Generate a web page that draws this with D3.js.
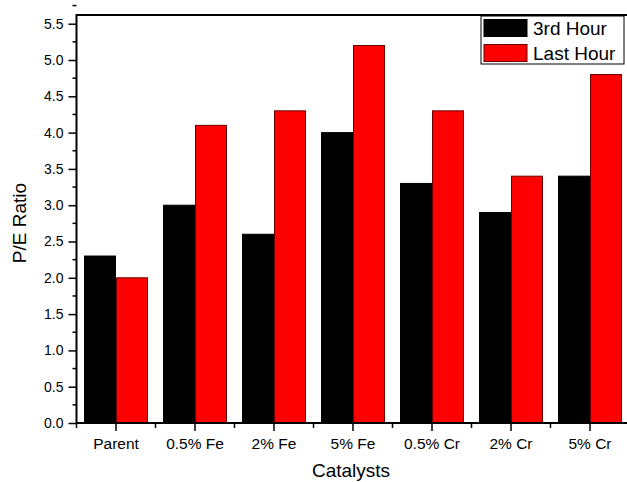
<!DOCTYPE html>
<html>
<head>
<meta charset="utf-8">
<script src="https://cdn.jsdelivr.net/npm/d3@7"></script>
<style>
  body { margin: 0; background: #fff; }
  svg { display: block; font-family: Arial, "Liberation Sans", sans-serif; }
</style>
</head>
<body>
<div id="chart"></div>
<script>
// P/E ratio per catalyst
var categories = ["Parent", "0.5% Fe", "2% Fe", "5% Fe", "0.5% Cr", "2% Cr", "5% Cr"];
var series = ["3rd Hour", "Last Hour"];
var thirdHour = [2.3, 3.0, 2.6, 4.0, 3.3, 2.9, 3.4];
var lastHour = [2.0, 4.1, 4.3, 5.2, 4.3, 3.4, 4.8];
var yTicks = [0, 0.5, 1, 1.5, 2, 2.5, 3, 3.5, 4, 4.5, 5, 5.5];

var FILL = ["#000000", "#ff0000"];
var EDGE = ["#000000", "#6a0000"];

var width = 627, height = 482;
var margin = { top: 15, right: -2.5, bottom: 59, left: 76.5 };

var svg = d3.select("#chart").append("svg")
  .attr("width", width)
  .attr("height", height);

var x = d3.scaleBand()
  .domain(categories)
  .range([margin.left, width - margin.right])
  .paddingInner(0.19)
  .paddingOuter(0.095);

var xs = d3.scaleBand()
  .domain(series)
  .range([0, x.bandwidth()]);

var y = d3.scaleLinear()
  .domain([0, 5.62])
  .range([height - margin.bottom, margin.top]);

var rows = categories.map(function(c, i) {
  return { cat: c, values: [thirdHour[i], lastHour[i]] };
});

// bars
var group = svg.append("g")
  .selectAll("g")
  .data(rows)
  .enter()
  .append("g")
  .attr("transform", function(d) { return "translate(" + x(d.cat) + ",0)"; });

group.selectAll("rect")
  .data(function(d) { return d.values.map(function(v, k) { return { s: series[k], v: v, k: k }; }); })
  .enter()
  .append("rect")
  .attr("x", function(d) { return xs(d.s) + 0.5; })
  .attr("y", function(d) { return y(d.v); })
  .attr("width", xs.bandwidth() - 1)
  .attr("height", function(d) { return y(0) - y(d.v); })
  .attr("fill", function(d) { return FILL[d.k]; })
  .attr("stroke", function(d) { return EDGE[d.k]; })
  .attr("stroke-width", 1);

// y axis with minor ticks
var yAxis = svg.append("g")
  .attr("transform", "translate(" + margin.left + ",0)")
  .call(d3.axisLeft(y).tickValues(yTicks).tickFormat(d3.format(".1f")).tickSize(8).tickPadding(5));
yAxis.select(".domain").remove();
yAxis.selectAll("text").attr("font-size", "14px").attr("fill", "#000");
yAxis.selectAll("line").attr("stroke-width", 1.5);

svg.append("g")
  .selectAll("line")
  .data(yTicks.map(function(t) { return t + 0.25; }))
  .enter()
  .append("line")
  .attr("x1", margin.left - 4)
  .attr("x2", margin.left)
  .attr("y1", function(d) { return y(d); })
  .attr("y2", function(d) { return y(d); })
  .attr("stroke", "#000")
  .attr("stroke-width", 1.5);

// x axis, major ticks at category centres and minor ticks between groups
var xAxis = svg.append("g")
  .attr("transform", "translate(0," + y(0) + ")")
  .call(d3.axisBottom(x).tickSize(8).tickPadding(7));
xAxis.select(".domain").remove();
xAxis.selectAll("text").attr("font-size", "15.5px").attr("fill", "#000");
xAxis.selectAll("line").attr("stroke-width", 1.5);

svg.append("g")
  .selectAll("line")
  .data(categories.map(function(c) { return x(c) + x.bandwidth() / 2 - x.step() / 2; }))
  .enter()
  .append("line")
  .attr("x1", function(d) { return d; })
  .attr("x2", function(d) { return d; })
  .attr("y1", y(0))
  .attr("y2", y(0) + 5)
  .attr("stroke", "#000")
  .attr("stroke-width", 1.5);

// frame: left, bottom and top
var x0 = margin.left, x1 = width - margin.right;
svg.append("path")
  .attr("d", "M" + x1 + "," + margin.top + "H" + x0 + "V" + y(0) + "H" + x1)
  .attr("fill", "none")
  .attr("stroke", "#000")
  .attr("stroke-width", 2);

// axis titles
svg.append("text")
  .attr("x", (x0 + x1) / 2 - 2)
  .attr("y", 477)
  .attr("text-anchor", "middle")
  .attr("font-size", "19px")
  .text("Catalysts");

svg.append("text")
  .attr("transform", "translate(26," + ((margin.top + y(0)) / 2 + 4) + ")rotate(-90)")
  .attr("text-anchor", "middle")
  .attr("font-size", "19px")
  .text("P/E Ratio");

// legend
var legend = svg.append("g");
legend.append("rect")
  .attr("x", 481).attr("y", 16)
  .attr("width", 143).attr("height", 48)
  .attr("fill", "#fff")
  .attr("stroke", "#000")
  .attr("stroke-width", 1);

var item = legend.selectAll("g")
  .data(series)
  .enter()
  .append("g")
  .attr("transform", function(d, i) { return "translate(484," + (19.5 + i * 25) + ")"; });

item.append("rect")
  .attr("width", 43).attr("height", 17)
  .attr("fill", function(d, i) { return FILL[i]; })
  .attr("stroke", function(d, i) { return EDGE[i]; });

item.append("text")
  .attr("x", 49)
  .attr("y", 15.5)
  .attr("font-size", "19px")
  .text(function(d) { return d; });
</script>
</body>
</html>
